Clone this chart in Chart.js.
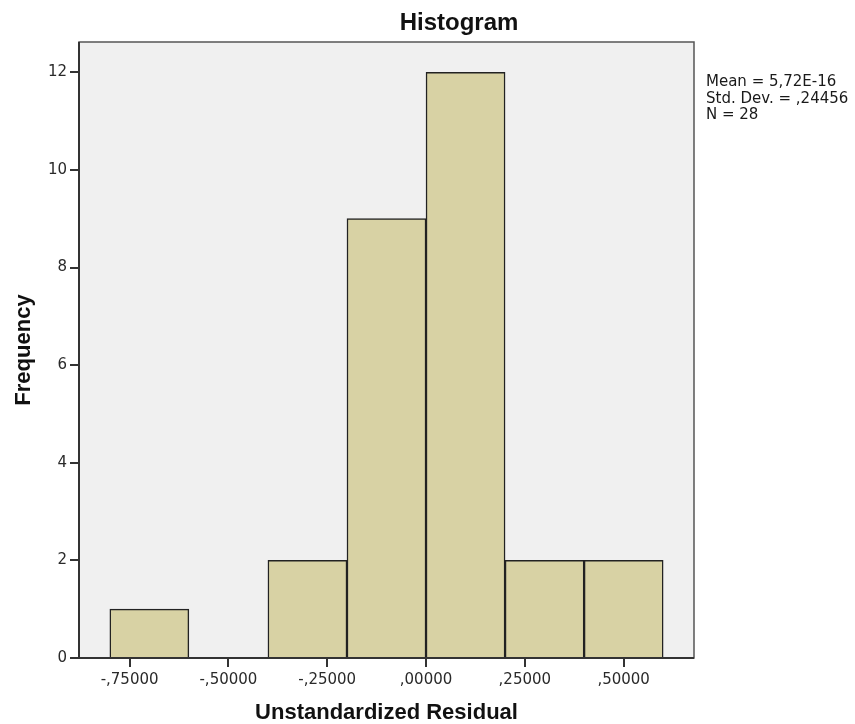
<!DOCTYPE html>
<html>
<head>
<meta charset="utf-8">
<script src="https://cdn.jsdelivr.net/npm/chart.js@4.4.0/dist/chart.umd.min.js"></script>
<style>
  html, body { margin: 0; padding: 0; background: #fff; }
  #wrap { width: 855px; height: 724px; }
</style>
</head>
<body>
<div id="wrap"><canvas id="chart"></canvas></div>
<script>
// histogram bins (lower edge) and counts
const binStarts = [-0.8, -0.6, -0.4, -0.2, 0, 0.2, 0.4]
const binWidth = 0.2
const frequencies = [1, 0, 2, 9, 12, 2, 2]

const xTicks = [-0.75, -0.5, -0.25, 0, 0.25, 0.5]
const yTicks = [0, 2, 4, 6, 8, 10, 12]

const statsLines = ['Mean = 5,72E-16', 'Std. Dev. = ,24456', 'N = 28']

// SPSS style number: -0.75 -> "-,75000"
const fmt = v => {
  const s = Math.abs(v).toFixed(5).replace(/^0\./, ',')
  return (v < 0 ? '-' : '') + s
}

const frame = {
  id: 'frame',
  beforeDraw(chart) {
    const { ctx, chartArea: a } = chart
    ctx.save()
    ctx.fillStyle = '#f0f0f0'
    ctx.fillRect(a.left, a.top, a.right - a.left, a.bottom - a.top)
    ctx.restore()
  },
  afterDatasetsDraw(chart) {
    const { ctx, chartArea: a } = chart
    ctx.save()
    ctx.strokeStyle = '#555'
    ctx.lineWidth = 1.5
    ctx.strokeRect(a.left, a.top, a.right - a.left, a.bottom - a.top)
    ctx.strokeStyle = '#333'
    ctx.lineWidth = 2
    ctx.beginPath()
    ctx.moveTo(a.left, a.top)
    ctx.lineTo(a.left, a.bottom)
    ctx.lineTo(a.right, a.bottom)
    ctx.stroke()

    // title and stats box
    ctx.fillStyle = '#111'
    ctx.font = 'bold 24px "Liberation Sans", Arial, sans-serif'
    ctx.textAlign = 'center'
    ctx.textBaseline = 'alphabetic'
    ctx.fillText('Histogram', 459, 30)

    ctx.fillStyle = '#1a1a1a'
    ctx.font = '15px "DejaVu Sans", sans-serif'
    ctx.textAlign = 'left'
    statsLines.forEach((t, i) => ctx.fillText(t, 706, 86 + i * 16.5))
    ctx.restore()
  }
}

const ctx = document.getElementById('chart').getContext('2d')

new Chart(ctx, {
  type: 'bar',
  data: {
    datasets: [{
      data: binStarts.map((s, i) => ({ x: s + binWidth / 2, y: frequencies[i] })),
      backgroundColor: '#d8d2a4',
      borderColor: '#222',
      borderWidth: 1.5,
      barPercentage: 1,
      categoryPercentage: 1
    }]
  },
  options: {
    responsive: true,
    maintainAspectRatio: false,
    animation: false,
    layout: { padding: { top: 42, right: 161, left: 0, bottom: 0 } },
    plugins: {
      legend: { display: false },
      tooltip: { enabled: false }
    },
    scales: {
      x: {
        type: 'linear',
        offset: false,
        min: -0.878,
        max: 0.678,
        afterFit: s => { s.height = 66 },
        afterBuildTicks: s => { s.ticks = xTicks.map(v => ({ value: v })) },
        border: { display: false },
        grid: { offset: false, drawOnChartArea: false, tickLength: 9, color: '#333', lineWidth: 2 },
        ticks: {
          padding: 4,
          maxRotation: 0,
          autoSkip: false,
          color: '#2a2a2a',
          font: { family: '"DejaVu Sans", sans-serif', size: 15 },
          callback: v => fmt(v)
        },
        title: {
          display: true,
          text: 'Unstandardized Residual',
          color: '#111',
          font: { family: '"Liberation Sans", Arial, sans-serif', size: 22, weight: 'bold', lineHeight: 1 },
          padding: { top: 0, bottom: 0 }
        }
      },
      y: {
        min: 0,
        max: 12.62,
        afterFit: s => { s.width = 79 },
        afterBuildTicks: s => { s.ticks = yTicks.map(v => ({ value: v })) },
        border: { display: false },
        grid: { drawOnChartArea: false, tickLength: 9, color: '#333', lineWidth: 2 },
        ticks: {
          padding: 3,
          color: '#2a2a2a',
          font: { family: '"DejaVu Sans", sans-serif', size: 15 }
        },
        title: {
          display: true,
          text: 'Frequency',
          color: '#111',
          font: { family: '"Liberation Sans", Arial, sans-serif', size: 22, weight: 'bold' },
          padding: { top: 11, bottom: 0 }
        }
      }
    }
  },
  plugins: [frame]
})
</script>
</body>
</html>
